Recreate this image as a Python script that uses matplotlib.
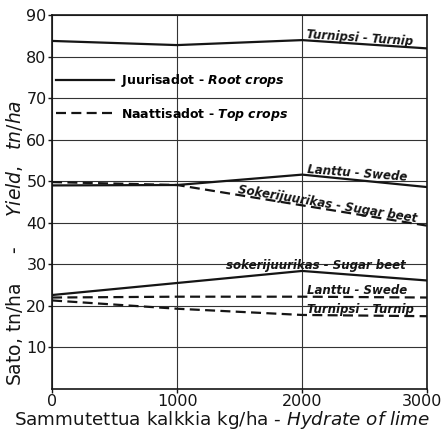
import matplotlib
matplotlib.use("Agg")
import matplotlib.pyplot as plt
import matplotlib.transforms as mtransforms

# ---- data ----
lime = [0, 1000, 2000, 3000]
turnip_root = [83.8, 82.8, 84.0, 82.0]
swede_root = [49.0, 49.1, 51.6, 48.6]
sugarbeet_root = [22.6, 25.5, 28.4, 26.1]
sugarbeet_top = [49.8, 49.1, 44.2, 39.3]
swede_top = [22.0, 22.2, 22.2, 22.0]
turnip_top = [21.3, 19.3, 17.8, 17.5]

yticks = [10, 20, 30, 40, 50, 60, 70, 80, 90]
xticks = [0, 1000, 2000, 3000]

INK = '#151515'
SOLID = '-'
DASH = (0, (4.5, 2.4))

fig = plt.figure(figsize=(4.45, 4.34), dpi=100)
ax = fig.add_axes([0.117, 0.104, 0.843, 0.861])

ax.set_xlim(0, 3000)
ax.set_ylim(0, 90)
ax.set_xticks(xticks)
ax.set_yticks(yticks)
ax.tick_params(axis='both', labelsize=11.5, length=3, width=1, color=INK, labelcolor=INK, pad=1)
ax.grid(True, color='#333333', linewidth=0.8)
ax.set_axisbelow(True)
for s in ax.spines.values():
    s.set_color(INK)
    s.set_linewidth(1.2)

lw = 1.6
l1, = ax.plot(lime, turnip_root, color=INK, lw=lw, ls=SOLID)
ax.plot(lime, swede_root, color=INK, lw=lw, ls=SOLID)
ax.plot(lime, sugarbeet_root, color=INK, lw=lw, ls=SOLID)
l2, = ax.plot(lime, sugarbeet_top, color=INK, lw=lw, ls=DASH)
ax.plot(lime, swede_top, color=INK, lw=lw, ls=DASH)
ax.plot(lime, turnip_top, color=INK, lw=lw, ls=DASH)

leg = ax.legend([l1, l2],
                [r"Juurisadot - $\mathbfit{Root\ crops}$",
                 r"Naattisadot - $\mathbfit{Top\ crops}$"],
                loc='upper left', bbox_to_anchor=(-0.019, 0.877),
                frameon=False, handlelength=4.6, handletextpad=0.6,
                labelspacing=1.3, prop={'weight': 'bold', 'size': 9})

afont = dict(fontsize=8.5, fontstyle='italic', fontweight='bold', color=INK,
             ha='left', va='baseline', rotation_mode='anchor')
ax.text(2030, 84.4, "Turnipsi - Turnip", rotation=-3.9, **afont)
ax.text(2040, 52.0, "Lanttu - Swede", rotation=-4.5, **afont)
ax.text(1480, 47.2, "Sokerijuurikas - Sugar beet", rotation=-9.3, **afont)
ax.text(1390, 28.8, "sokerijuurikas - Sugar beet", rotation=0, **afont)
ax.text(2040, 22.8, "Lanttu - Swede", rotation=0, **afont)
ax.text(2040, 18.2, "Turnipsi - Turnip", rotation=0, **afont)

ax.set_xlabel(r"Sammutettua kalkkia kg/ha - $\it{Hydrate\ of\ lime}$", fontsize=13.2, color=INK, labelpad=2)
ax.xaxis.set_label_coords(0.453, -0.055)
ax.xaxis.label.set_va('top')
fig.text(0.032, 0.44, r"Sato, tn/ha     -     $\it{Yield,\ \ tn/ha}$", rotation=90,
         ha='center', va='center', fontsize=13.5, color=INK)

# nudge the last x tick label so it stays inside the figure
lab = ax.get_xticklabels()[-1]
lab.set_transform(lab.get_transform() + mtransforms.ScaledTranslation(-4 / 72, 0, fig.dpi_scale_trans))

fig.savefig("out.png", dpi=100)
